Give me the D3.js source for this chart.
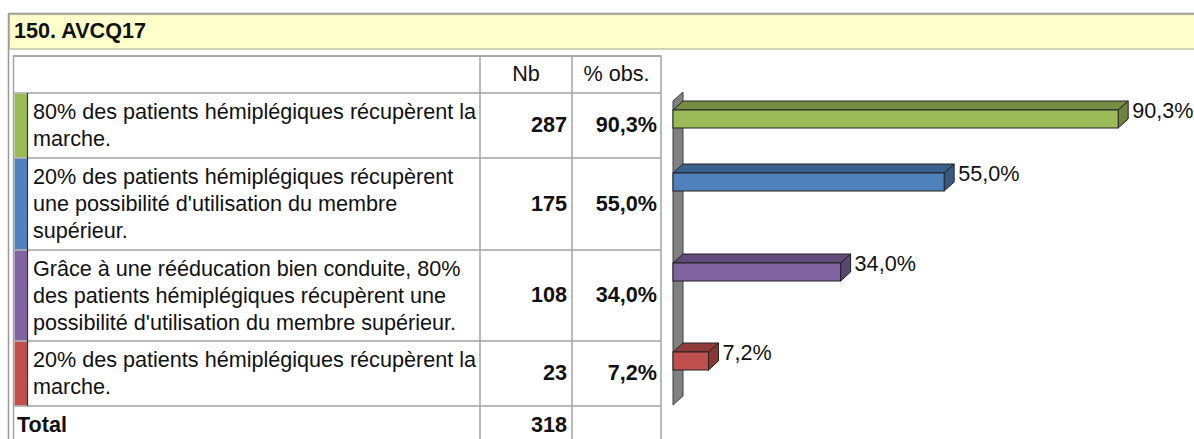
<!DOCTYPE html>
<html>
<head>
<meta charset="utf-8">
<script src="https://cdn.jsdelivr.net/npm/d3@7"></script>
<style>
body { margin: 0; background: #fff; }
text { font-family: "Liberation Sans", Arial, sans-serif; }
</style>
</head>
<body>
<div id="viz"></div>
<script>
var width = 1194, height = 439;

var title = "150. AVCQ17";
var labels = [
	["80% des patients hémiplégiques récupèrent la", "marche."],
	["20% des patients hémiplégiques récupèrent", "une possibilité d'utilisation du membre", "supérieur."],
	["Grâce à une rééducation bien conduite, 80%", "des patients hémiplégiques récupèrent une", "possibilité d'utilisation du membre supérieur."],
	["20% des patients hémiplégiques récupèrent la", "marche."]
];
var counts = [287, 175, 108, 23];
var percents = [90.3, 55.0, 34.0, 7.2];
var total = 318;
var colors = ["#9bbb59", "#4f81bd", "#8064a2", "#c0504d"];

// layout of the table
var colX = [13.5, 480, 572, 661];
var rowY = [93, 158, 250, 341, 406];
var gridColor = "#a3a3a3";
var fs = 21.6;
var fmt = function(v){ return d3.format(".1f")(v).replace(".", ",") + "%"; };

var canvas = d3.select("#viz")
	.append("svg")
	.attr("width", width)
	.attr("height", height);

// outer frame + title band
canvas.append("rect")
	.attr("x", 8.5).attr("y", 13.5)
	.attr("width", 1200).attr("height", 450)
	.attr("fill", "#fff").attr("stroke", "#999").attr("stroke-width", 1.5);
canvas.append("rect")
	.attr("x", 9.5).attr("y", 14.5)
	.attr("width", 1200).attr("height", 34.5)
	.attr("fill", "#ffffcc").attr("stroke", "#b5b5a0").attr("stroke-width", 1.2);
canvas.append("text")
	.attr("x", 14).attr("y", 32)
	.attr("dominant-baseline", "middle")
	.attr("font-size", fs).attr("font-weight", "bold").attr("fill", "#111")
	.text(title);

// table grid
var grid = canvas.append("g")
	.attr("stroke", gridColor).attr("stroke-width", 1.5).attr("fill", "none");
grid.append("rect")
	.attr("x", colX[0]).attr("y", 56)
	.attr("width", colX[3] - colX[0]).attr("height", 400);
[56].concat(rowY).forEach(function(y){
	grid.append("line").attr("x1", colX[0]).attr("x2", colX[3]).attr("y1", y).attr("y2", y);
});
[colX[1], colX[2]].forEach(function(x){
	grid.append("line").attr("x1", x).attr("x2", x).attr("y1", 56).attr("y2", 450);
});

// header
canvas.append("text").attr("x", (colX[1] + colX[2]) / 2).attr("y", 75)
	.attr("text-anchor", "middle").attr("dominant-baseline", "middle")
	.attr("font-size", fs).attr("fill", "#111").text("Nb");
canvas.append("text").attr("x", (colX[2] + colX[3]) / 2).attr("y", 75)
	.attr("text-anchor", "middle").attr("dominant-baseline", "middle")
	.attr("font-size", fs).attr("fill", "#111").text("% obs.");

// rows
var rows = canvas.append("g").selectAll("g")
	.data(d3.range(counts.length))
	.enter().append("g");

rows.append("rect")
	.attr("x", 14.5)
	.attr("y", function(i){ return rowY[i] + 0.75; })
	.attr("width", 12.5)
	.attr("height", function(i){ return rowY[i + 1] - rowY[i] - 1.5; })
	.attr("fill", function(i){ return colors[i]; });
rows.append("line")
	.attr("x1", 27.5).attr("x2", 27.5)
	.attr("y1", function(i){ return rowY[i]; })
	.attr("y2", function(i){ return rowY[i + 1]; })
	.attr("stroke", "#333").attr("stroke-width", 1.2);

rows.each(function(i){
	var g = d3.select(this);
	labels[i].forEach(function(line, k){
		g.append("text")
			.attr("x", 33)
			.attr("y", rowY[i] + 20 + k * 27)
			.attr("dominant-baseline", "middle")
			.attr("font-size", fs).attr("fill", "#111")
			.text(line);
	});
});

rows.append("text")
	.attr("x", colX[2] - 5)
	.attr("y", function(i){ return (rowY[i] + rowY[i + 1]) / 2 + 1; })
	.attr("text-anchor", "end").attr("dominant-baseline", "middle")
	.attr("font-size", fs).attr("font-weight", "bold").attr("fill", "#111")
	.text(function(i){ return counts[i]; });
rows.append("text")
	.attr("x", colX[3] - 4)
	.attr("y", function(i){ return (rowY[i] + rowY[i + 1]) / 2 + 1; })
	.attr("text-anchor", "end").attr("dominant-baseline", "middle")
	.attr("font-size", fs).attr("font-weight", "bold").attr("fill", "#111")
	.text(function(i){ return fmt(percents[i]); });

// total row
canvas.append("text").attr("x", 17).attr("y", 426)
	.attr("dominant-baseline", "middle")
	.attr("font-size", fs).attr("font-weight", "bold").attr("fill", "#111").text("Total");
canvas.append("text").attr("x", colX[2] - 5).attr("y", 426)
	.attr("text-anchor", "end").attr("dominant-baseline", "middle")
	.attr("font-size", fs).attr("font-weight", "bold").attr("fill", "#111").text(total);

// 3D bar chart
var x = d3.scaleLinear().domain([0, 100]).range([673, 1166]);
var dx = 10, dy = 9, barH = 18;
var barOffset = [17, 15, 13, 11];
var barTop = function(i){ return rowY[i] + barOffset[i]; };

// back wall
canvas.append("polygon")
	.attr("points", [[673, 101], [683, 92], [683, 396], [673, 405]].join(" "))
	.attr("fill", "#808080").attr("stroke", "#404040").attr("stroke-width", 1);

var bars = canvas.append("g").selectAll("g")
	.data(d3.range(percents.length))
	.enter().append("g")
	.attr("stroke", "#222").attr("stroke-width", 1);

bars.append("polygon")
	.attr("points", function(i){
		var x0 = x(0), x1 = x(percents[i]), y = barTop(i);
		return [[x0, y], [x0 + dx, y - dy], [x1 + dx, y - dy], [x1, y]].join(" ");
	})
	.attr("fill", function(i){ return d3.color(colors[i]).darker(0.8); });
bars.append("polygon")
	.attr("points", function(i){
		var x1 = x(percents[i]), y = barTop(i);
		return [[x1, y], [x1 + dx, y - dy], [x1 + dx, y + barH - dy], [x1, y + barH]].join(" ");
	})
	.attr("fill", function(i){ return d3.color(colors[i]).darker(1); });
bars.append("rect")
	.attr("x", x(0))
	.attr("y", function(i){ return barTop(i); })
	.attr("width", function(i){ return x(percents[i]) - x(0); })
	.attr("height", barH)
	.attr("fill", function(i){ return colors[i]; });

bars.append("text")
	.attr("stroke", "none")
	.attr("x", function(i){ return x(percents[i]) + dx + 4; })
	.attr("y", function(i){ return barTop(i) + 2; })
	.attr("dominant-baseline", "middle")
	.attr("font-size", fs).attr("fill", "#111")
	.text(function(i){ return fmt(percents[i]); });
</script>
</body>
</html>
